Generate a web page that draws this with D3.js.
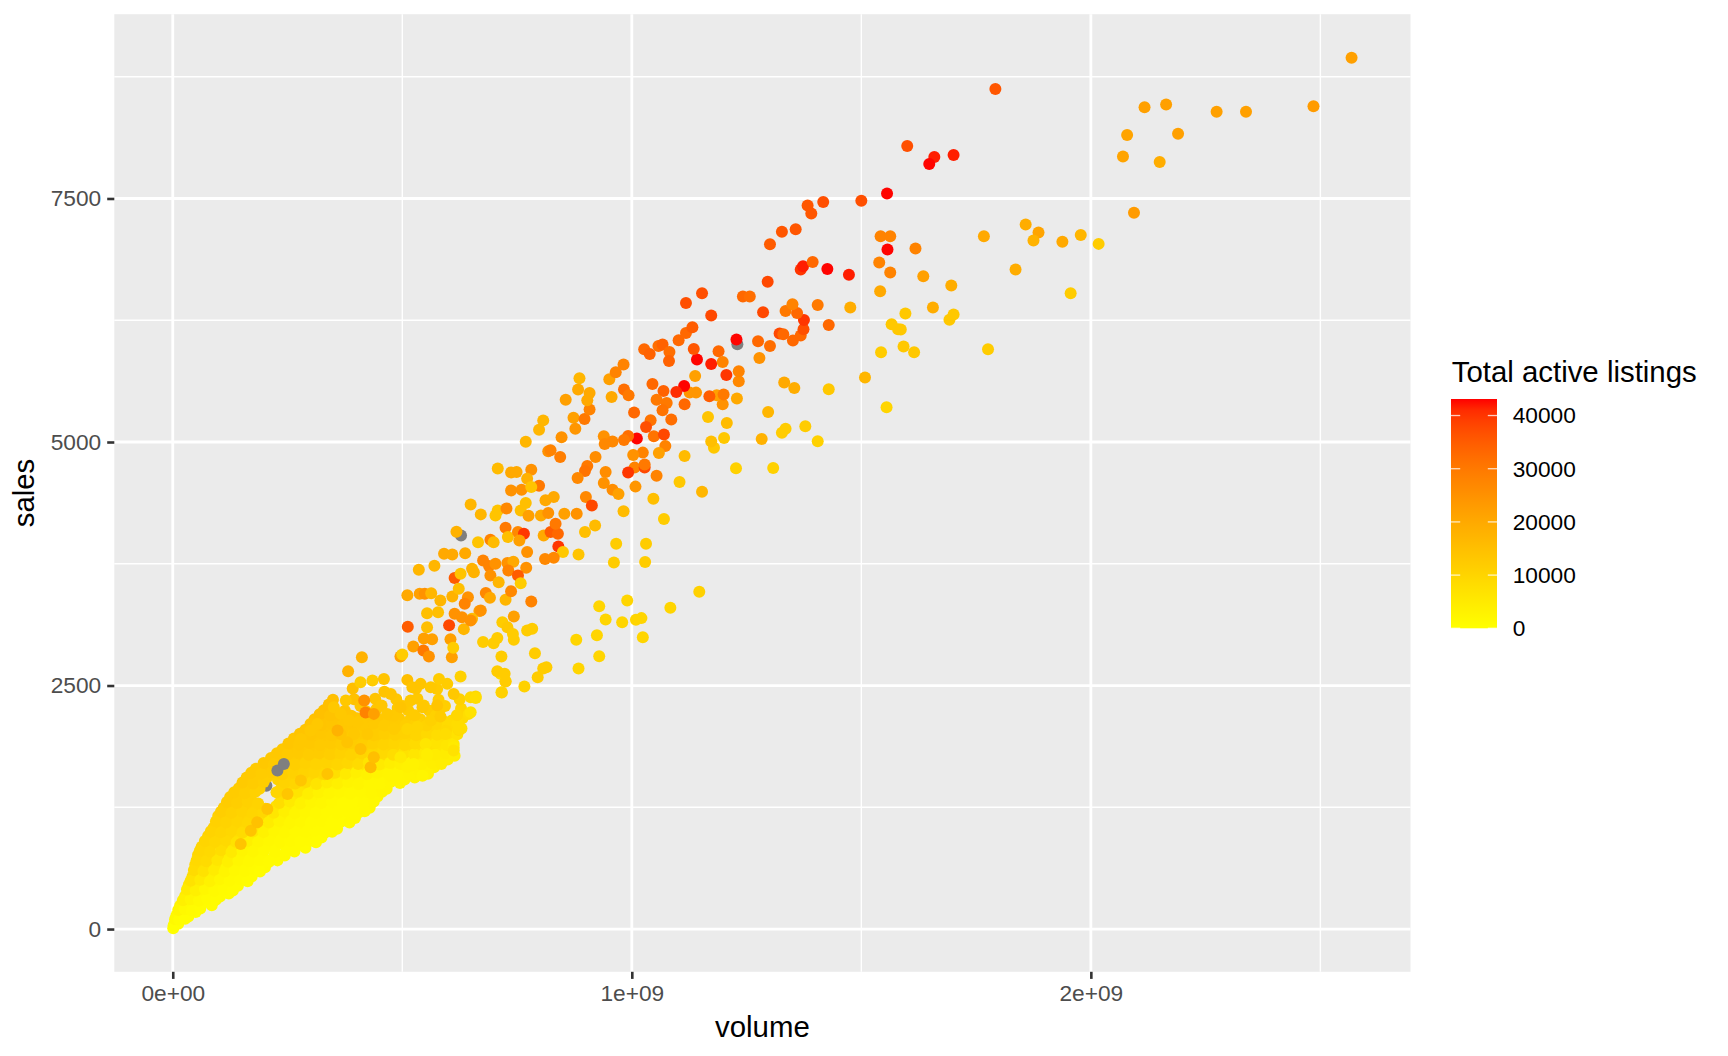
<!DOCTYPE html>
<html>
<head>
<meta charset="utf-8">
<script src="https://cdn.jsdelivr.net/npm/d3@7"></script>
<style>
  body { margin: 0; background: #fff; }
  text { font-family: "Liberation Sans", Arial, Helvetica, sans-serif; }
</style>
</head>
<body>
<div id="chart"></div>
<script>
// values: [volume in billions of $, sales, total active listings]

// dense wedge near the origin: gold upper arm, bright yellow lower arm
const bandPoints = [
  [0.001, 8, 50], [0.002, 40, 300], [0.006, 75, 250], [0.012, 55, 150], [0.017, 120, 600],
  [0.008, 140, 1500], [0.021, 165, 900], [0.034, 130, 500], [0.05, 175, 400],
  [0.016, 240, 3000], [0.031, 265, 2000], [0.049, 235, 1200], [0.066, 270, 800], [0.085, 245, 600],
  [0.027, 340, 4500], [0.044, 370, 3000], [0.063, 330, 1800], [0.083, 360, 1200], [0.103, 335, 900], [0.122, 365, 700],
  [0.035, 455, 6000], [0.055, 430, 4000], [0.077, 465, 2500], [0.098, 440, 1500], [0.119, 470, 1000], [0.142, 445, 800],
  [0.043, 540, 8000], [0.064, 565, 6000], [0.086, 545, 3500], [0.109, 570, 2000], [0.13, 535, 1400], [0.152, 560, 1000], [0.172, 540, 800],
  [0.049, 660, 9000], [0.07, 640, 8000], [0.094, 665, 5000], [0.117, 640, 2500], [0.139, 670, 1500], [0.162, 645, 1200], [0.183, 660, 1000], [0.201, 635, 900],
  [0.055, 760, 9500], [0.077, 735, 9000], [0.101, 765, 7000], [0.124, 740, 4000], [0.148, 770, 2000], [0.171, 745, 1500], [0.195, 760, 1200], [0.219, 735, 1000], [0.244, 755, 900],
  [0.063, 845, 10000], [0.085, 870, 9500], [0.109, 840, 9000], [0.132, 865, 6000], [0.156, 835, 3000], [0.18, 860, 2000], [0.204, 845, 1500], [0.228, 870, 1200], [0.251, 840, 1000], [0.272, 860, 900], [0.289, 835, 800],
  [0.077, 955, 10500], [0.099, 930, 10000], [0.122, 960, 9500], [0.146, 940, 8000], [0.169, 965, 4000], [0.192, 935, 2500], [0.215, 960, 1800], [0.238, 940, 1500], [0.261, 965, 1200], [0.283, 935, 1000], [0.304, 955, 900], [0.324, 940, 800],
  [0.089, 1040, 11000], [0.111, 1065, 10500], [0.134, 1035, 10000], [0.157, 1060, 9500], [0.18, 1045, 7000], [0.203, 1070, 3500], [0.226, 1040, 2200], [0.249, 1060, 1800], [0.272, 1035, 1500], [0.295, 1065, 1200], [0.317, 1040, 1000], [0.339, 1060, 900], [0.358, 1030, 900],
  [0.099, 1160, 11000], [0.122, 1135, 11000], [0.145, 1165, 10500], [0.168, 1140, 10000], [0.191, 1170, 9000], [0.214, 1145, 5000], [0.237, 1160, 3000], [0.26, 1135, 2200], [0.283, 1165, 1800], [0.306, 1140, 1500], [0.329, 1160, 1200], [0.352, 1135, 1000], [0.375, 1160, 1000], [0.397, 1140, 1200],
  [0.111, 1245, 11500], [0.133, 1270, 11500], [0.156, 1240, 11000], [0.179, 1265, 10500], [0.202, 1235, 10000], [0.225, 1260, 7000], [0.248, 1240, 4000], [0.271, 1270, 2500], [0.294, 1245, 2000], [0.317, 1265, 1600], [0.34, 1235, 1400], [0.363, 1260, 1200], [0.386, 1240, 1200], [0.409, 1265, 1400], [0.429, 1245, 1600],
  [0.125, 1355, 12000], [0.147, 1330, 11500], [0.17, 1360, 11000], [0.239, 1340, 9000], [0.262, 1360, 5500], [0.285, 1335, 3500], [0.308, 1365, 2500], [0.331, 1340, 2000], [0.354, 1360, 1600], [0.377, 1335, 1400], [0.4, 1365, 1400], [0.423, 1340, 1600], [0.446, 1360, 1800],
  [0.144, 1445, 12000], [0.166, 1470, 11500], [0.189, 1440, 11000], [0.235, 1435, 10000], [0.258, 1460, 9000], [0.281, 1440, 7000], [0.304, 1470, 4500], [0.327, 1445, 3000], [0.35, 1465, 2500], [0.373, 1440, 2000], [0.396, 1460, 1800], [0.419, 1435, 1800], [0.443, 1465, 2000], [0.466, 1440, 2200],
  [0.161, 1555, 12500], [0.183, 1530, 12000], [0.206, 1560, 11500], [0.229, 1535, 11000], [0.252, 1565, 10500], [0.275, 1540, 10000], [0.298, 1560, 9500], [0.321, 1535, 8500], [0.344, 1565, 6000], [0.367, 1540, 4000], [0.39, 1555, 3000], [0.413, 1530, 2500], [0.436, 1560, 2200], [0.459, 1540, 2000], [0.482, 1565, 2200], [0.505, 1535, 2400], [0.527, 1555, 2600],
  [0.181, 1645, 12500], [0.203, 1670, 12500], [0.226, 1640, 12000], [0.249, 1665, 11500], [0.272, 1635, 11000], [0.295, 1660, 10500], [0.318, 1640, 10000], [0.341, 1670, 10000], [0.364, 1645, 9500], [0.387, 1665, 8000], [0.41, 1635, 6000], [0.433, 1660, 4500], [0.456, 1640, 3500], [0.479, 1665, 3000], [0.502, 1645, 2800], [0.525, 1670, 3000], [0.548, 1640, 3200], [0.569, 1660, 3500],
  [0.214, 1755, 13000], [0.237, 1730, 12500], [0.26, 1760, 12000], [0.283, 1735, 12000], [0.306, 1765, 11500], [0.329, 1740, 11000], [0.352, 1760, 11000], [0.375, 1735, 10500], [0.398, 1765, 10000], [0.421, 1740, 9500], [0.444, 1755, 9000], [0.467, 1730, 8000], [0.49, 1760, 7000], [0.513, 1740, 6000], [0.536, 1765, 5000], [0.559, 1735, 4500], [0.581, 1755, 4000], [0.599, 1740, 4000],
  [0.239, 1845, 13000], [0.262, 1870, 13000], [0.285, 1840, 12500], [0.308, 1865, 12500], [0.331, 1835, 12000], [0.354, 1860, 12000], [0.377, 1840, 11500], [0.4, 1870, 11000], [0.423, 1845, 10500], [0.446, 1865, 10000], [0.469, 1840, 10000], [0.492, 1860, 9500], [0.515, 1835, 9000], [0.538, 1865, 8000], [0.561, 1845, 7000], [0.584, 1860, 6000], [0.607, 1840, 5000],
  [0.264, 1955, 13500], [0.287, 1930, 13400], [0.31, 1960, 13000], [0.333, 1935, 13000], [0.356, 1965, 12600], [0.379, 1940, 12400], [0.402, 1960, 12000], [0.425, 1935, 12000], [0.448, 1965, 11500], [0.471, 1940, 11000], [0.494, 1955, 10500], [0.517, 1930, 10000], [0.54, 1960, 9000], [0.563, 1940, 8000], [0.586, 1965, 7000], [0.609, 1945, 6500],
  [0.289, 2045, 14000], [0.312, 2070, 13600], [0.335, 2040, 13400], [0.358, 2065, 13000], [0.381, 2035, 13000], [0.404, 2060, 12600], [0.427, 2040, 12400], [0.45, 2070, 12000], [0.473, 2045, 12000], [0.496, 2065, 11500], [0.519, 2040, 11000], [0.542, 2060, 10500], [0.565, 2035, 9500], [0.588, 2065, 8500], [0.611, 2045, 8000], [0.629, 2060, 7500],
  [0.309, 2155, 14500], [0.332, 2130, 14000], [0.355, 2160, 14000], [0.378, 2135, 13500], [0.401, 2165, 13500], [0.424, 2140, 13000], [0.447, 2160, 13000], [0.47, 2135, 12600], [0.493, 2165, 12400], [0.516, 2140, 12000], [0.539, 2155, 11500], [0.562, 2130, 11000], [0.585, 2160, 10000], [0.608, 2140, 9000], [0.631, 2165, 8500],
  [0.329, 2245, 15000], [0.375, 2240, 14000], [0.421, 2235, 13600], [0.444, 2260, 13400], [0.49, 2270, 13000], [0.513, 2245, 12600], [0.559, 2240, 12000], [0.582, 2260, 11500], [0.628, 2265, 10000],
  [0.349, 2355, 15000], [0.395, 2360, 14500], [0.441, 2365, 14000], [0.487, 2360, 13400], [0.533, 2365, 13000], [0.579, 2355, 12000], [0.625, 2360, 11000],
  [0.392, 2470, 15000], [0.461, 2435, 14000], [0.53, 2470, 13400], [0.576, 2465, 12600]
];

// second layer of the wedge, between the rows above
const bandFill = [
  [0.005, 100, 1500], [0.014, 95, 800], [0.027, 105, 400],
  [0.012, 195, 2500], [0.026, 205, 1500], [0.042, 190, 900], [0.06, 210, 600],
  [0.022, 295, 3500], [0.039, 305, 2500], [0.057, 290, 1500], [0.075, 310, 1000], [0.094, 300, 700],
  [0.031, 405, 5000], [0.05, 395, 3500], [0.07, 410, 2000], [0.09, 390, 1300], [0.111, 405, 900], [0.131, 395, 700],
  [0.039, 495, 7000], [0.06, 505, 5000], [0.081, 490, 3000], [0.103, 510, 1800], [0.124, 495, 1200], [0.147, 505, 900], [0.163, 490, 800],
  [0.046, 605, 8500], [0.067, 595, 7000], [0.09, 610, 4500], [0.113, 590, 2500], [0.135, 605, 1500], [0.157, 595, 1100], [0.178, 610, 900], [0.19, 590, 800],
  [0.052, 705, 9000], [0.073, 695, 8500], [0.097, 710, 6000], [0.12, 690, 3500], [0.143, 705, 2000], [0.166, 695, 1400], [0.189, 710, 1100], [0.21, 690, 1000], [0.228, 705, 900],
  [0.059, 805, 9500], [0.081, 795, 9000], [0.105, 810, 8000], [0.128, 790, 5000], [0.152, 805, 2500], [0.175, 795, 1800], [0.199, 810, 1400], [0.223, 790, 1100], [0.247, 805, 1000], [0.265, 795, 900],
  [0.07, 905, 10000], [0.092, 895, 9500], [0.116, 910, 9000], [0.139, 890, 7000], [0.163, 905, 3500], [0.186, 895, 2200], [0.21, 910, 1700], [0.233, 890, 1400], [0.256, 905, 1100], [0.278, 895, 1000], [0.298, 905, 900], [0.312, 890, 800],
  [0.083, 1005, 10500], [0.105, 995, 10000], [0.128, 1010, 9500], [0.152, 990, 8500], [0.175, 1005, 5500], [0.198, 995, 3000], [0.221, 1010, 2000], [0.244, 990, 1600], [0.267, 1005, 1300], [0.29, 995, 1100], [0.311, 1010, 1000], [0.332, 990, 900], [0.347, 1000, 900],
  [0.094, 1105, 11000], [0.116, 1095, 10500], [0.14, 1110, 10000], [0.163, 1090, 9500], [0.186, 1105, 8000], [0.209, 1095, 4500], [0.232, 1110, 2600], [0.255, 1090, 2000], [0.278, 1105, 1600], [0.301, 1095, 1300], [0.323, 1110, 1100], [0.346, 1090, 1000], [0.367, 1105, 1000], [0.385, 1095, 1100],
  [0.105, 1205, 11500], [0.128, 1195, 11000], [0.151, 1210, 10500], [0.174, 1190, 10000], [0.197, 1205, 9500], [0.22, 1195, 6000], [0.243, 1210, 3500], [0.266, 1190, 2400], [0.289, 1205, 1900], [0.312, 1195, 1500], [0.335, 1210, 1300], [0.358, 1190, 1100], [0.381, 1205, 1100], [0.404, 1195, 1300], [0.418, 1210, 1500],
  [0.118, 1305, 12000], [0.14, 1295, 11500], [0.163, 1310, 11000], [0.186, 1290, 10500], [0.232, 1295, 8000], [0.255, 1310, 5000], [0.278, 1290, 3000], [0.301, 1305, 2200], [0.324, 1295, 1800], [0.347, 1310, 1500], [0.37, 1290, 1300], [0.393, 1305, 1300], [0.416, 1295, 1500], [0.438, 1310, 1700],
  [0.134, 1405, 12000], [0.157, 1395, 11500], [0.18, 1410, 11000], [0.226, 1405, 10000], [0.249, 1395, 9500], [0.272, 1410, 6500], [0.295, 1390, 4000], [0.318, 1405, 2800], [0.341, 1395, 2200], [0.364, 1410, 1800], [0.387, 1390, 1600], [0.41, 1405, 1700], [0.433, 1395, 1900], [0.456, 1410, 2100],
  [0.152, 1505, 12500], [0.175, 1495, 12000], [0.198, 1510, 11500], [0.244, 1505, 10500], [0.267, 1495, 10000], [0.29, 1510, 8500], [0.313, 1490, 6500], [0.336, 1505, 4500], [0.359, 1495, 3500], [0.382, 1510, 2700], [0.405, 1490, 2300], [0.428, 1505, 2000], [0.451, 1495, 2000], [0.474, 1510, 2200], [0.495, 1500, 2400],
  [0.171, 1605, 12500], [0.193, 1595, 12000], [0.216, 1610, 12000], [0.239, 1590, 11500], [0.262, 1605, 11000], [0.285, 1595, 10500], [0.308, 1610, 10000], [0.331, 1590, 9500], [0.354, 1605, 7500], [0.377, 1595, 5000], [0.4, 1610, 3500], [0.423, 1590, 3000], [0.446, 1605, 2600], [0.469, 1595, 2400], [0.492, 1610, 2500], [0.515, 1590, 2700], [0.538, 1605, 2900], [0.556, 1595, 3100],
  [0.198, 1705, 13000], [0.22, 1695, 12500], [0.243, 1710, 12000], [0.266, 1690, 11500], [0.289, 1705, 11000], [0.312, 1695, 10500], [0.335, 1710, 10500], [0.358, 1690, 10000], [0.381, 1705, 9500], [0.404, 1695, 8500], [0.427, 1710, 6500], [0.45, 1690, 5000], [0.473, 1705, 4000], [0.496, 1695, 3500], [0.519, 1710, 3200], [0.542, 1690, 3500], [0.565, 1705, 3800], [0.585, 1695, 4000],
  [0.227, 1805, 13000], [0.25, 1795, 12500], [0.273, 1810, 12500], [0.296, 1790, 12000], [0.319, 1805, 12000], [0.342, 1795, 11500], [0.365, 1810, 11000], [0.388, 1790, 10500], [0.411, 1805, 10000], [0.434, 1795, 9500], [0.457, 1810, 9000], [0.48, 1790, 8000], [0.503, 1805, 7000], [0.526, 1795, 6000], [0.549, 1810, 5000], [0.572, 1790, 4500], [0.595, 1805, 4500],
  [0.252, 1905, 13500], [0.275, 1895, 13000], [0.298, 1910, 13000], [0.321, 1890, 12500], [0.344, 1905, 12500], [0.367, 1895, 12000], [0.39, 1910, 12000], [0.413, 1890, 11500], [0.436, 1905, 11000], [0.459, 1895, 10500], [0.482, 1910, 10000], [0.505, 1890, 9500], [0.528, 1905, 8500], [0.551, 1895, 7500], [0.574, 1910, 6500], [0.597, 1890, 6000], [0.612, 1900, 5500],
  [0.277, 2005, 13800], [0.3, 1995, 13500], [0.323, 2010, 13200], [0.346, 1990, 13000], [0.369, 2005, 12800], [0.392, 1995, 12500], [0.415, 2010, 12200], [0.438, 1990, 12000], [0.461, 2005, 11700], [0.484, 1995, 11200], [0.507, 2010, 10700], [0.53, 1990, 10000], [0.553, 2005, 9000], [0.576, 1995, 8000], [0.599, 2010, 7500], [0.62, 2000, 7000],
  [0.3, 2105, 14200], [0.323, 2095, 13800], [0.346, 2110, 13700], [0.369, 2090, 13200], [0.392, 2105, 13200], [0.415, 2095, 12800], [0.438, 2110, 12700], [0.461, 2090, 12300], [0.484, 2105, 12200], [0.507, 2095, 11700], [0.53, 2110, 11200], [0.553, 2090, 10500], [0.576, 2105, 9500], [0.599, 2095, 8500], [0.62, 2110, 8000],
  [0.32, 2205, 14700], [0.343, 2195, 14200], [0.389, 2190, 13700], [0.435, 2195, 13200], [0.481, 2190, 12800], [0.527, 2195, 12200], [0.573, 2190, 11000], [0.619, 2195, 9500],
  [0.34, 2305, 15000], [0.409, 2290, 14000], [0.455, 2295, 13500], [0.501, 2290, 13000], [0.547, 2295, 12500], [0.593, 2290, 11500]
];

// slightly darker streaks and loose points on top of the wedge
const bandHighlights = [
  [0.148, 873, 14000], [0.170, 1010, 14000], [0.184, 1096, 14500], [0.206, 1233, 14000],
  [0.250, 1387, 13500], [0.279, 1524, 13500], [0.337, 1593, 14000],
  [0.315, 2106, 13000], [0.300, 2038, 13000], [0.279, 1952, 13000], [0.366, 2003, 14000], [0.395, 2003, 13000],
  [0.424, 2003, 13000], [0.380, 1918, 14000], [0.409, 1849, 15000], [0.431, 1661, 16000], [0.438, 1764, 15000],
  [0.377, 2346, 13000], [0.351, 2277, 13000], [0.366, 2209, 13000], [0.384, 2140, 13000], [0.402, 2123, 13000],
  [0.382, 2647, 18000], [0.412, 2791, 18000], [0.409, 2534, 12000], [0.435, 2551, 12000],
  [0.417, 2346, 25000], [0.420, 2223, 28000], [0.438, 2209, 22000], [0.359, 2038, 18000],
  [0.460, 2568, 14000], [0.475, 2414, 14000], [0.511, 2558, 15000], [0.522, 2483, 14000], [0.540, 2517, 14000],
  [0.562, 2483, 13000], [0.580, 2568, 12000], [0.598, 2517, 12000], [0.627, 2592, 11000], [0.649, 2380, 9000],
  [0.660, 2387, 9000], [0.612, 2414, 13000], [0.576, 2294, 14000], [0.544, 2277, 13000], [0.518, 2346, 13000],
  [0.496, 2277, 14000], [0.467, 2209, 13000], [0.482, 2054, 12000], [0.511, 2054, 10000], [0.533, 2078, 10000],
  [0.562, 2140, 11000], [0.583, 2181, 12000], [0.595, 2037, 9000], [0.623, 2044, 9000], [0.645, 2209, 8000],
  [0.551, 1900, 6000], [0.554, 1780, 4000], [0.612, 1866, 5000], [0.614, 1780, 4000], [0.496, 1763, 5000],
  [0.522, 1678, 3000], [0.475, 1575, 2500], [0.544, 1575, 2500], [0.511, 1661, 3000], [0.525, 1695, 3000],
  [0.554, 1797, 4000], [0.612, 1832, 7000], [0.594, 2003, 8000], [0.623, 2054, 8000], [0.649, 2226, 7000],
  [0.660, 2373, 8000], [0.714, 2620, 9000], [0.716, 2431, 8000], [0.725, 2544, 9000]
];

// the wide middle of the cloud (roughly 2500 to 5200 sales)
const midPoints = [
  [0.807, 5222, 17000], [0.798, 5127, 17000], [0.769, 5003, 17000], [0.818, 4904, 25000], [0.708, 4729, 16000],
  [0.737, 4688, 20000], [0.749, 4692, 20000], [0.781, 4716, 25000], [0.772, 4623, 18000], [0.798, 4551, 30000],
  [0.737, 4503, 25000], [0.760, 4510, 25000], [0.781, 4538, 14000], [0.812, 4401, 20000], [0.830, 4435, 20000],
  [0.649, 4359, 17000], [0.671, 4257, 17000], [0.703, 4246, 14000], [0.708, 4298, 14000], [0.727, 4318, 27000],
  [0.769, 4373, 15000], [0.758, 4298, 15000], [0.775, 4243, 22000], [0.802, 4246, 20000], [0.818, 4270, 25000],
  [0.618, 4079, 18000], [0.725, 4120, 30000], [0.730, 4024, 15000], [0.752, 4075, 27000], [0.765, 4058, 40000],
  [0.755, 3990, 22000], [0.772, 3870, 25000], [0.808, 4041, 20000], [0.823, 4075, 35000], [0.839, 4058, 33000],
  [0.840, 3928, 40000], [0.850, 3870, 13000], [0.884, 3846, 14000], [0.830, 3811, 27000], [0.811, 3798, 27000],
  [0.665, 3972, 14000], [0.692, 3996, 28000], [0.699, 3972, 16000], [0.591, 3852, 20000], [0.609, 3846, 20000],
  [0.637, 3859, 20000], [0.676, 3784, 28000], [0.689, 3726, 28000], [0.703, 3750, 25000], [0.729, 3757, 25000],
  [0.742, 3771, 20000], [0.770, 3709, 25000], [0.536, 3688, 17000], [0.570, 3729, 17000], [0.614, 3603, 35000],
  [0.627, 3647, 14000], [0.652, 3699, 18000], [0.656, 3664, 18000], [0.692, 3630, 25000], [0.710, 3561, 17000],
  [0.731, 3681, 28000], [0.752, 3630, 35000], [0.758, 3551, 12000], [0.511, 3428, 20000], [0.538, 3442, 22000],
  [0.549, 3442, 25000], [0.563, 3448, 17000], [0.583, 3373, 17000], [0.609, 3414, 18000], [0.623, 3493, 15000],
  [0.643, 3407, 25000], [0.636, 3339, 28000], [0.668, 3264, 22000], [0.682, 3449, 27000], [0.691, 3400, 20000],
  [0.725, 3380, 17000], [0.737, 3469, 27000], [0.781, 3363, 28000], [0.554, 3243, 15000], [0.578, 3253, 15000],
  [0.614, 3236, 25000], [0.630, 3202, 25000], [0.652, 3185, 16000], [0.671, 3270, 25000], [0.512, 3103, 35000],
  [0.554, 3099, 15000], [0.602, 3120, 38000], [0.634, 3079, 17000], [0.649, 3168, 25000], [0.718, 3150, 12000],
  [0.729, 3099, 13000], [0.743, 3209, 22000], [0.772, 3065, 12000], [0.783, 3082, 12000], [0.707, 2989, 12000],
  [0.699, 2935, 12000], [0.676, 2948, 12000], [0.743, 2969, 12000], [0.741, 3030, 12000], [0.547, 2983, 22000],
  [0.565, 2976, 22000], [0.605, 2976, 22000], [0.524, 2901, 22000], [0.546, 2859, 30000], [0.558, 2798, 25000],
  [0.496, 2798, 22000], [0.500, 2818, 12000], [0.608, 2791, 22000], [0.611, 2887, 12000], [0.716, 2798, 12000],
  [0.789, 2832, 12000], [0.814, 2688, 12000], [0.807, 2674, 12000], [0.795, 2585, 12000], [0.707, 2647, 12000],
  [0.723, 2620, 12000], [0.725, 2541, 12000], [0.717, 2428, 11000], [0.766, 2489, 11000], [0.879, 2969, 10000],
  [0.924, 3017, 10000], [0.929, 2801, 10000], [0.884, 2674, 10000], [0.929, 3315, 10000], [0.943, 3178, 10000],
  [0.979, 3150, 10000], [0.990, 3373, 10000], [1.009, 3175, 10000], [1.021, 3192, 10000], [1.024, 2996, 10000],
  [1.084, 3298, 10000], [1.147, 3462, 11000], [0.966, 3955, 12000], [0.961, 3764, 12000], [1.031, 3955, 12000],
  [1.029, 3767, 12000]
];

// upper cloud with the red (high listing) points
const upperPoints = [
  [1.556, 7552, 43000], [1.500, 7476, 37000], [1.417, 7463, 37000], [1.383, 7429, 36000], [1.391, 7347, 36000],
  [1.357, 7185, 36000], [1.327, 7158, 36000], [1.301, 7031, 35000], [1.542, 7113, 28000], [1.563, 7113, 28000],
  [1.557, 6977, 43000], [1.539, 6843, 28000], [1.563, 6740, 28000], [1.541, 6548, 20000], [1.476, 6381, 19000],
  [1.566, 6209, 13000], [1.580, 6158, 13000], [1.543, 5922, 12000], [1.508, 5662, 17000], [1.555, 5356, 10000],
  [1.429, 5541, 13000], [1.354, 5555, 19000], [1.332, 5610, 20000], [1.378, 5161, 12000], [1.335, 5137, 12000],
  [1.327, 5096, 12000], [1.405, 5007, 11000], [1.297, 5308, 17000], [1.283, 5031, 18000], [1.308, 4733, 11000],
  [1.227, 4730, 11000], [1.153, 4490, 17000], [1.104, 4589, 13000], [1.115, 4856, 16000], [1.070, 4209, 12000],
  [1.047, 4418, 15000], [0.982, 4288, 16000], [1.179, 4942, 13000], [1.173, 5004, 15000], [1.201, 5041, 13000],
  [1.207, 5195, 16000], [1.166, 5257, 14000], [1.229, 5446, 20000], [1.198, 5387, 25000], [1.185, 5480, 22000],
  [1.169, 5469, 35000], [1.200, 5487, 30000], [1.233, 5624, 27000], [1.233, 5726, 28000], [1.206, 5688, 40000],
  [1.173, 5801, 42000], [1.142, 5846, 43000], [1.198, 5822, 28000], [1.189, 5932, 33000], [1.135, 5955, 36000],
  [1.138, 5678, 22000], [1.140, 5507, 24000], [1.126, 5507, 24000], [1.114, 5575, 43000], [1.097, 5513, 41000],
  [1.115, 5387, 33000], [1.069, 5524, 34000], [1.045, 5596, 33000], [1.076, 5400, 30000], [1.054, 5435, 30000],
  [1.067, 5326, 31000], [1.086, 5230, 32000], [1.041, 5223, 31000], [1.031, 5154, 37000], [1.005, 5302, 33000],
  [1.048, 5058, 31000], [1.070, 5076, 38000], [1.073, 4959, 28000], [1.059, 4887, 22000], [1.011, 5035, 43000],
  [0.992, 5062, 32000], [0.983, 5020, 30000], [0.939, 5058, 25000], [0.958, 5004, 27000], [0.941, 4979, 27000],
  [1.024, 4891, 28000], [1.003, 4866, 25000], [1.006, 4737, 28000], [1.028, 4737, 38000], [1.028, 4768, 30000],
  [0.992, 4688, 40000], [1.054, 4654, 28000], [1.008, 4542, 24000], [0.943, 4692, 26000], [0.939, 4579, 25000],
  [0.958, 4511, 26000], [0.971, 4466, 22000], [0.921, 4846, 26000], [0.903, 4753, 30000], [0.898, 4702, 31000],
  [0.882, 4630, 27000], [0.880, 4264, 25000], [0.900, 4435, 27000], [0.913, 4349, 38000], [0.920, 4144, 16000],
  [0.898, 4075, 15000], [0.853, 4264, 22000], [0.844, 4846, 29000], [0.847, 5048, 25000], [0.823, 4915, 28000],
  [0.834, 4161, 30000], [0.856, 5435, 22000], [0.873, 5250, 22000], [0.877, 5137, 24000], [0.897, 5236, 30000],
  [0.908, 5333, 28000], [0.903, 5428, 20000], [0.908, 5503, 20000], [0.883, 5538, 20000], [0.886, 5654, 17000],
  [0.956, 5462, 20000], [0.951, 5644, 22000], [0.965, 5716, 28000], [0.982, 5795, 28000], [0.983, 5538, 32000],
  [0.993, 5480, 30000], [1.027, 5952, 33000], [1.039, 5904, 34000], [1.058, 5986, 32000], [1.067, 6001, 34000],
  [1.082, 5925, 32000], [1.081, 5832, 34000], [1.102, 6045, 33000], [1.118, 6120, 33000], [1.132, 6178, 35000],
  [1.118, 6428, 37000], [1.153, 6528, 37000], [1.173, 6299, 38000], [1.242, 6494, 33000], [1.257, 6494, 32000],
  [1.286, 6333, 38000], [1.296, 6644, 38000], [1.228, 6052, 43000], [1.275, 6035, 33000], [1.301, 5986, 32000],
  [1.278, 5863, 25000], [1.322, 6114, 38000], [1.330, 6106, 33000], [1.351, 6042, 33000], [1.368, 6093, 33000],
  [1.374, 6158, 37000], [1.375, 6253, 40000], [1.360, 6325, 33000], [1.335, 6346, 30000], [1.350, 6415, 28000],
  [1.368, 6771, 40000], [1.373, 6805, 42000], [1.394, 6849, 33000], [1.426, 6777, 43000], [1.473, 6716, 42000],
  [1.405, 6407, 30000], [1.429, 6202, 33000]
];

// sparse points at the top right
const tailPoints = [
  [2.568, 8945, 22000], [1.792, 8624, 36000], [2.117, 8436, 22000], [2.164, 8466, 22000], [2.274, 8391, 22000],
  [2.338, 8391, 22000], [2.485, 8446, 23000], [2.079, 8151, 21000], [2.190, 8165, 22000], [2.070, 7932, 21000],
  [2.150, 7874, 19000], [1.600, 8038, 37000], [1.659, 7925, 42000], [1.648, 7853, 43000], [1.701, 7946, 42000],
  [2.094, 7353, 23000], [1.767, 7113, 20000], [1.858, 7234, 19000], [1.886, 7151, 21000], [1.875, 7069, 18000],
  [1.938, 7055, 20000], [1.978, 7124, 17000], [2.017, 7034, 12000], [1.618, 6987, 28000], [1.635, 6702, 22000],
  [1.696, 6607, 19000], [1.836, 6771, 19000], [1.956, 6528, 12000], [1.656, 6381, 19000], [1.701, 6309, 13000],
  [1.692, 6255, 13000], [1.596, 6319, 13000], [1.586, 6155, 13000], [1.592, 5980, 13000], [1.615, 5922, 13000],
  [1.776, 5952, 12000]
];

// rows with no listings value (drawn grey), [volume in billions, sales]
const missingUnder = [[0.003, 34], [0.204, 1470], [0.369, 1593], [0.225, 1010], [0.628, 4041], [1.230, 6004]];
const missingOver = [[0.228, 1627], [0.242, 1695]];

const volumeTicks = [0, 1e9, 2e9];
const volumeMinor = [0.5e9, 1.5e9, 2.5e9];
const salesTicks = [0, 2500, 5000, 7500];
const salesMinor = [1250, 3750, 6250, 8750];
const listingTicks = [0, 10000, 20000, 30000, 40000];
const listingLimits = [0, 43107];

const W = 1728, H = 1056;
const margin = { top: 14.2, right: 317.5, bottom: 84.2, left: 114.3 };
const pw = W - margin.left - margin.right;
const ph = H - margin.top - margin.bottom;

const svg = d3.select("#chart").append("svg")
  .attr("width", W)
  .attr("height", H);

svg.append("rect").attr("width", W).attr("height", H).attr("fill", "#fff");

const colored = [].concat(bandPoints, bandFill, bandHighlights, midPoints, upperPoints, tailPoints);
const allVol = colored.map(d => d[0]).concat(missingUnder.map(d => d[0]), missingOver.map(d => d[0]));
const allSales = colored.map(d => d[1]).concat(missingUnder.map(d => d[1]), missingOver.map(d => d[1]));

// ggplot style 5% padding on both ends
function padded(ext) {
  const r = ext[1] - ext[0];
  return [ext[0] - r * 0.05, ext[1] + r * 0.05];
}

const x = d3.scaleLinear().domain(padded(d3.extent(allVol)).map(v => v * 1e9)).range([0, pw]);
const y = d3.scaleLinear().domain(padded(d3.extent(allSales))).range([ph, 0]);
const colour = d3.scaleLinear().domain(listingLimits).range(["yellow", "red"])
  .interpolate(d3.interpolateLab).clamp(true);

const g = svg.append("g").attr("transform", `translate(${margin.left},${margin.top})`);

// panel and grid
g.append("rect").attr("width", pw).attr("height", ph).attr("fill", "#EBEBEB");

g.selectAll(".ymin").data(salesMinor).enter().append("line")
  .attr("x1", 0).attr("x2", pw)
  .attr("y1", d => y(d)).attr("y2", d => y(d))
  .attr("stroke", "#fff").attr("stroke-width", 1.4);
g.selectAll(".xmin").data(volumeMinor).enter().append("line")
  .attr("y1", 0).attr("y2", ph)
  .attr("x1", d => x(d)).attr("x2", d => x(d))
  .attr("stroke", "#fff").attr("stroke-width", 1.4);
g.selectAll(".ymaj").data(salesTicks).enter().append("line")
  .attr("x1", 0).attr("x2", pw)
  .attr("y1", d => y(d)).attr("y2", d => y(d))
  .attr("stroke", "#fff").attr("stroke-width", 2.8);
g.selectAll(".xmaj").data(volumeTicks).enter().append("line")
  .attr("y1", 0).attr("y2", ph)
  .attr("x1", d => x(d)).attr("x2", d => x(d))
  .attr("stroke", "#fff").attr("stroke-width", 2.8);

// points
const R = 6;
function drawGrey(data) {
  g.append("g").selectAll("circle").data(data).enter().append("circle")
    .attr("cx", d => x(d[0] * 1e9))
    .attr("cy", d => y(d[1]))
    .attr("r", R)
    .attr("fill", "#7F7F7F");
}
drawGrey(missingUnder);
g.append("g").selectAll("circle").data(colored).enter().append("circle")
  .attr("cx", d => x(d[0] * 1e9))
  .attr("cy", d => y(d[1]))
  .attr("r", R)
  .attr("fill", d => colour(d[2]));
drawGrey(missingOver);

// axes, ggplot look: 0e+00 style labels
function sci(v) {
  if (v === 0) return "0e+00";
  const e = Math.floor(Math.log10(v));
  return Math.round(v / Math.pow(10, e)) + "e+" + String(e).padStart(2, "0");
}

const xAxis = g.append("g")
  .attr("transform", `translate(0,${ph})`)
  .call(d3.axisBottom(x).tickValues(volumeTicks).tickFormat(sci).tickSize(7.1).tickPadding(6));
const yAxis = g.append("g")
  .call(d3.axisLeft(y).tickValues(salesTicks).tickFormat(d3.format("d")).tickSize(7.1).tickPadding(6));

[xAxis, yAxis].forEach(a => {
  a.select(".domain").remove();
  a.selectAll(".tick line").attr("stroke", "#333333").attr("stroke-width", 2.6);
  a.selectAll(".tick text")
    .attr("fill", "#4D4D4D")
    .style("font-size", "22.7px")
    .style("font-family", "'Liberation Sans', Arial, sans-serif");
});
xAxis.selectAll(".tick text").attr("dy", "0.71em").attr("y", 13);

svg.append("text")
  .attr("x", margin.left + pw / 2)
  .attr("y", 1037)
  .attr("text-anchor", "middle")
  .style("font-size", "29.4px")
  .attr("fill", "#000")
  .text("volume");

svg.append("text")
  .attr("transform", `translate(34,${margin.top + ph / 2}) rotate(-90)`)
  .attr("text-anchor", "middle")
  .style("font-size", "29.4px")
  .attr("fill", "#000")
  .text("sales");

// colour bar legend
const lg = { x: 1451, y: 399, w: 46, h: 229.3 };
const legendY = d3.scaleLinear().domain(listingLimits).range([lg.y + lg.h, lg.y]);

const grad = svg.append("defs").append("linearGradient")
  .attr("id", "bar").attr("x1", 0).attr("y1", 1).attr("x2", 0).attr("y2", 0);
grad.selectAll("stop").data(d3.range(0, 1.0001, 0.05)).enter().append("stop")
  .attr("offset", d => d)
  .attr("stop-color", d => colour(listingLimits[0] + d * (listingLimits[1] - listingLimits[0])));

svg.append("rect")
  .attr("x", lg.x).attr("y", lg.y).attr("width", lg.w).attr("height", lg.h)
  .attr("fill", "url(#bar)");

const ticks = svg.append("g").selectAll("g").data(listingTicks).enter().append("g");
ticks.append("line")
  .attr("x1", lg.x).attr("x2", lg.x + 9.2)
  .attr("y1", d => legendY(d)).attr("y2", d => legendY(d))
  .attr("stroke", "rgba(255,255,255,0.75)").attr("stroke-width", 1.3);
ticks.append("line")
  .attr("x1", lg.x + lg.w - 9.2).attr("x2", lg.x + lg.w)
  .attr("y1", d => legendY(d)).attr("y2", d => legendY(d))
  .attr("stroke", "rgba(255,255,255,0.75)").attr("stroke-width", 1.3);
ticks.append("text")
  .attr("x", 1512.7)
  .attr("y", d => legendY(d))
  .attr("dy", "0.35em")
  .style("font-size", "22.7px")
  .attr("fill", "#000")
  .text(d => d);

svg.append("text")
  .attr("x", 1451.7)
  .attr("y", 381.7)
  .style("font-size", "29.4px")
  .attr("fill", "#000")
  .text("Total active listings");
</script>
</body>
</html>
